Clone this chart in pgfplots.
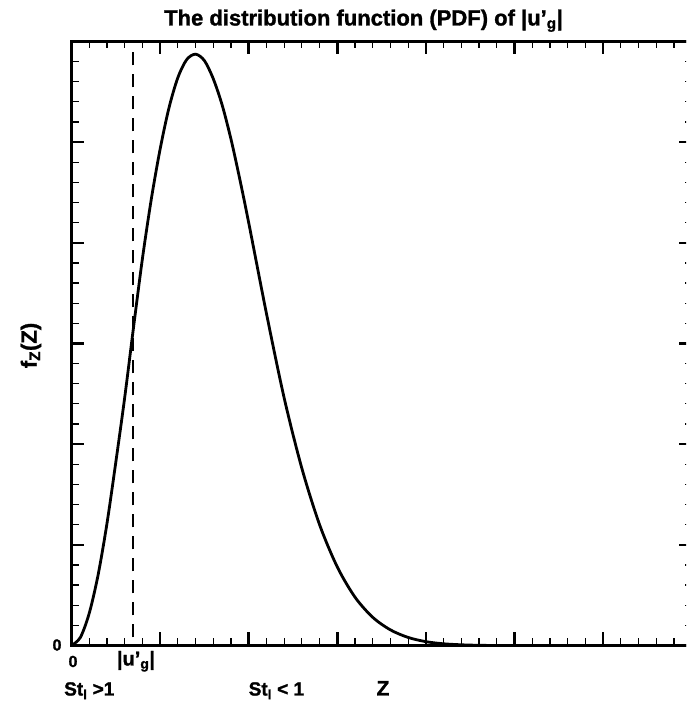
\documentclass[border=0pt]{standalone}
\usepackage{pgfplots}
\pgfplotsset{compat=1.18}
\usepackage{pgfplotstable}
\usepackage{fontspec}
\setmainfont{Liberation Sans}[BoldFeatures={FakeBold=1.3}]

\pgfplotstableread{
z f
0.0 0.000
0.1 0.080
0.2 0.320
0.3 0.700
0.4 1.210
0.5 1.820
0.6 2.460
0.7 3.160
0.8 3.840
0.9 4.430
1.0 4.930
1.1 5.340
1.2 5.640
1.3 5.820
1.4 5.874
1.5 5.810
1.6 5.630
1.7 5.370
1.8 5.030
1.9 4.630
2.0 4.200
2.2 3.300
2.4 2.460
2.6 1.760
2.8 1.200
3.0 0.780
3.2 0.480
3.4 0.280
3.6 0.155
3.8 0.080
4.0 0.038
4.2 0.017
4.4 0.007
4.6 0.002
4.8 0.000
}\pdfdata

\pgfplotstableread{
z f
0.694 0.08
0.694 5.95
}\ugline

\begin{document}
\begin{tikzpicture}
\useasboundingbox (-71.5pt,-57.5pt) rectangle (614.5pt,645.5pt);
\clip (-71.5pt,-57.5pt) rectangle (614.5pt,645.5pt);
\begin{axis}[
  at={(0pt,0pt)}, anchor=south west,
  scale only axis,
  width=620.2pt, height=604pt,
  xmin=0, xmax=7, ymin=0, ymax=6,
  xtick={0,...,7}, ytick={0,...,6},
  minor x tick num=4, minor y tick num=4,
  xticklabels={}, yticklabels={},
  tick align=inside,
  major tick length=13pt, minor tick length=7pt,
  major tick style={line width=2.6pt, black},
  minor tick style={line width=1.2pt, black},
  axis line style={line width=3pt, black},
  clip=false,
]
\addplot[black, line width=2.8pt, smooth, tension=0.5] table[x=z, y=f] {\pdfdata};
\addplot[black, line width=1.3pt, dash pattern=on 13pt off 9pt] table[x=z, y=f] {\ugline};
\end{axis}
\node[anchor=base, font=\fontsize{22}{26}\selectfont\bfseries] at (292pt,620pt)
  {The distribution function (PDF) of |u’\textsubscript{g}|};
\node[rotate=90, font=\fontsize{22}{26}\selectfont\bfseries] at (-40.5pt,300pt) {f\textsubscript{Z}(Z)};
\node[font=\fontsize{16}{18}\selectfont\bfseries] at (-14.5pt,0.5pt) {0};
\node[font=\fontsize{16}{18}\selectfont\bfseries] at (1.5pt,-16pt) {0};
\node[anchor=base, font=\fontsize{20}{22}\selectfont\bfseries] at (64.5pt,-20pt) {|u’\textsubscript{g}|};
\node[anchor=base west, font=\fontsize{19}{21}\selectfont\bfseries, inner sep=0pt] at (-7.5pt,-50pt) {St\textsubscript{l} >1};
\node[anchor=base west, font=\fontsize{19}{21}\selectfont\bfseries, inner sep=0pt] at (177pt,-50pt) {St\textsubscript{l} < 1};
\node[anchor=base, font=\fontsize{21}{24}\selectfont\bfseries] at (311.5pt,-50pt) {Z};
\end{tikzpicture}
\end{document}
